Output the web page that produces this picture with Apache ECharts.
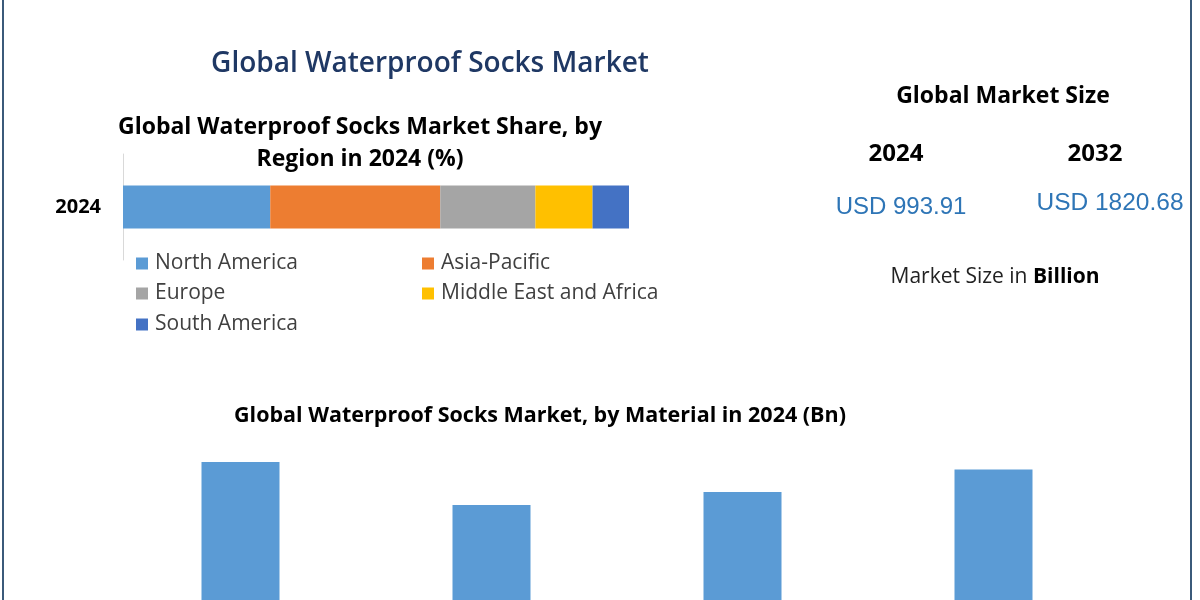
<!DOCTYPE html>
<html>
<head>
<meta charset="utf-8">
<script src="https://cdn.jsdelivr.net/npm/echarts@6/dist/echarts.min.js"></script>
<style>
html,body{margin:0;padding:0;background:#ffffff;}
#chart{width:1200px;height:600px;}
</style>
</head>
<body>
<div id="chart"></div>
<script>
// ---- data ----
const regionNames = ['North America', 'Asia-Pacific', 'Europe', 'Middle East and Africa', 'South America'];
const regionShare = [29.1, 33.6, 18.8, 11.3, 7.2];
const shareYear = ['2024'];
const materialNames = ['Nylon', 'Polyester', 'Merino Wool', 'Others'];
const materialValues = [271.5, 222.3, 237.1, 263.0];
const marketYears = ['2024', '2032'];
const marketValues = ['USD 993.91', 'USD 1820.68'];

// ---- styles ----
const regionColors = ['#5b9bd5', '#ed7d31', '#a5a5a5', '#ffc000', '#4472c4'];
const FONT = '"Open Sans", "Noto Sans", sans-serif';
const ARIAL = '"Liberation Sans", Arial, sans-serif';

const chart = echarts.init(document.getElementById('chart'), null, {renderer: 'canvas'});

const legendPos = [
  {left: 136, top: 253}, {left: 422, top: 253},
  {left: 136, top: 283}, {left: 422, top: 283},
  {left: 136, top: 314}
];

const option = {
  backgroundColor: '#ffffff',
  animation: false,
  grid: [
    {left: 123, top: 154, width: 506, height: 106},
    // the material chart's baseline lies below the visible picture (picture is cropped)
    {left: 115, top: 437, width: 1004, bottom: 0}
  ],
  xAxis: [
    {gridIndex: 0, type: 'value', min: 0, max: 100, show: false},
    {gridIndex: 1, type: 'category', data: materialNames, show: false}
  ],
  yAxis: [
    {gridIndex: 0, type: 'category', data: shareYear,
     axisLine: {show: true, lineStyle: {color: '#d9d9d9', width: 1}},
     axisTick: {show: false},
     axisLabel: {color: '#000', fontWeight: 'bold', fontSize: 20, fontFamily: FONT, margin: 22}},
    {gridIndex: 1, type: 'value', min: 114, max: 300, show: false}
  ],
  legend: regionNames.map((n, i) => ({
    data: [n], left: legendPos[i].left, top: legendPos[i].top, padding: 0,
    icon: 'rect', itemWidth: 12, itemHeight: 12, itemGap: 7,
    textStyle: {fontSize: 21, color: '#404040', fontFamily: FONT, padding: [0, 0, 0, 2]},
    selectedMode: false
  })),
  series: regionNames.map((n, i) => ({
    name: n, type: 'bar', stack: 'share', xAxisIndex: 0, yAxisIndex: 0,
    barWidth: 43, data: [regionShare[i]],
    itemStyle: {color: regionColors[i]}
  })).concat([{
    name: 'Material', type: 'bar', xAxisIndex: 1, yAxisIndex: 1,
    barWidth: 78, data: materialValues, clip: true,
    itemStyle: {color: '#5b9bd5'}
  }]),
  graphic: [
    {type: 'rect', shape: {x: 2, y: 0, width: 2, height: 600}, style: {fill: '#3b5a7a'}},
    {type: 'rect', shape: {x: 1190, y: 0, width: 2, height: 600}, style: {fill: '#3b5a7a'}},
    {type: 'text', x: 430, y: 64, style: {text: 'Global Waterproof Socks Market', fill: '#1f3864',
      font: '600 28px ' + FONT, textAlign: 'center', textVerticalAlign: 'middle'}},
    {type: 'text', x: 360, y: 127, style: {text: 'Global Waterproof Socks Market Share, by', fill: '#000',
      font: 'bold 23px ' + FONT, textAlign: 'center', textVerticalAlign: 'middle'}},
    {type: 'text', x: 360, y: 159, style: {text: 'Region in 2024 (%)', fill: '#000',
      font: 'bold 23px ' + FONT, textAlign: 'center', textVerticalAlign: 'middle'}},
    {type: 'text', x: 1003, y: 96, style: {text: 'Global Market Size', fill: '#000',
      font: 'bold 23px ' + FONT, textAlign: 'center', textVerticalAlign: 'middle'}},
    {type: 'text', x: 896, y: 154, style: {text: marketYears[0], fill: '#000',
      font: 'bold 24px ' + FONT, textAlign: 'center', textVerticalAlign: 'middle'}},
    {type: 'text', x: 1095, y: 154, style: {text: marketYears[1], fill: '#000',
      font: 'bold 24px ' + FONT, textAlign: 'center', textVerticalAlign: 'middle'}},
    {type: 'text', x: 901, y: 207, style: {text: marketValues[0], fill: '#2e75b6',
      font: '24px ' + ARIAL, textAlign: 'center', textVerticalAlign: 'middle'}},
    {type: 'text', x: 1110, y: 203, style: {text: marketValues[1], fill: '#2e75b6',
      font: '24.5px ' + ARIAL, textAlign: 'center', textVerticalAlign: 'middle'}},
    {type: 'text', x: 995, y: 277, style: {text: '{n|Market Size in }{b|Billion}',
      textAlign: 'center', textVerticalAlign: 'middle',
      rich: {n: {fontSize: 21, fontFamily: FONT, fill: '#222'}, b: {fontSize: 21, fontFamily: FONT, fontWeight: 'bold', fill: '#000'}}}},
    {type: 'text', x: 540, y: 416, style: {text: 'Global Waterproof Socks Market, by Material in 2024 (Bn)', fill: '#000',
      font: 'bold 21.5px ' + FONT, textAlign: 'center', textVerticalAlign: 'middle'}}
  ]
};
chart.setOption(option);
</script>
</body>
</html>
